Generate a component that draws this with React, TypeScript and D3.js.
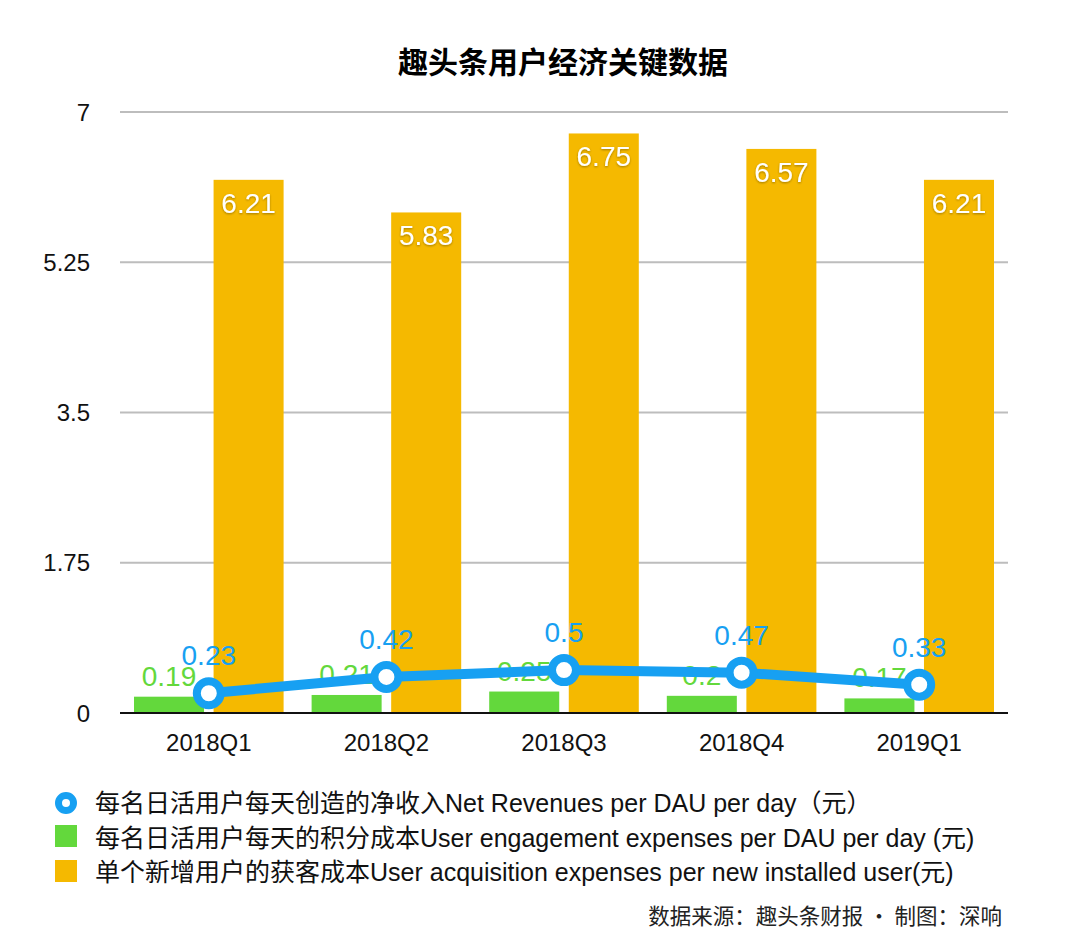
import * as d3 from "d3";

// 趣头条 quarterly numbers
const categories = ["2018Q1", "2018Q2", "2018Q3", "2018Q4", "2019Q1"];
const netRevenue = [0.23, 0.42, 0.5, 0.47, 0.33];
const engagement = [0.19, 0.21, 0.25, 0.2, 0.17];
const acquisition = [6.21, 5.83, 6.75, 6.57, 6.21];
const yTicks = [0, 1.75, 3.5, 5.25, 7];
const legendLabels = [
  "每名日活用户每天创造的净收入Net Revenues per DAU per day（元）",
  "每名日活用户每天的积分成本User engagement expenses per DAU per day (元)",
  "单个新增用户的获客成本User acquisition expenses per new installed user(元)",
];

const W = 1066;
const H = 946;
const BLUE = "#17a0f2";
const GREEN = "#63d83c";
const ORANGE = "#f5b900";
const FONT = '"Liberation Sans", "Noto Sans CJK SC", sans-serif';

const App = () => {
  const x = d3.scaleBand().domain(categories).range([120, 1008]);
  const sub = d3
    .scaleBand()
    .domain(["eng", "acq"])
    .range([0, x.step()])
    .paddingInner(0.12)
    .paddingOuter(0.176);
  const y = d3.scaleLinear().domain([0, 7]).range([713, 112]);

  const cx = (c: string) => (x(c) as number) + x.step() / 2;
  const line = d3
    .line<number>()
    .x((_, i) => cx(categories[i]))
    .y((d) => y(d));

  return (
    <div style={{ position: "absolute", left: 0, top: 0 }}>
      <svg width={W} height={H} style={{ display: "block", fontFamily: FONT }}>
        <defs>
          <filter id="shadow" x="-20%" y="-20%" width="140%" height="160%">
            <feDropShadow dx="0" dy="1" stdDeviation="1.2" floodColor="#000" floodOpacity="0.35" />
          </filter>
        </defs>
        <rect width={W} height={H} fill="#fff" />

        <text
          x={563}
          y={73}
          textAnchor="middle"
          fontSize={30}
          fontWeight="bold"
          fontFamily='"Noto Sans CJK SC", sans-serif'
          fill="#000"
        >
          趣头条用户经济关键数据
        </text>

        {/* grid + y labels */}
        {yTicks.map((t) => (
          <g key={t}>
            {t > 0 && (
              <line x1={120} x2={1008} y1={y(t)} y2={y(t)} stroke="#bdbdbd" strokeWidth={2} />
            )}
            <text x={90} y={y(t)} dy="0.36em" textAnchor="end" fontSize={24} fill="#111">
              {String(t)}
            </text>
          </g>
        ))}

        {/* bars */}
        {categories.map((c, i) => (
          <g key={c} transform={`translate(${x(c)},0)`}>
            <rect
              x={sub("eng")}
              width={sub.bandwidth()}
              y={y(engagement[i])}
              height={y(0) - y(engagement[i])}
              fill={GREEN}
            />
            <rect
              x={sub("acq")}
              width={sub.bandwidth()}
              y={y(acquisition[i])}
              height={y(0) - y(acquisition[i])}
              fill={ORANGE}
            />
          </g>
        ))}

        <line x1={120} x2={1008} y1={y(0)} y2={y(0)} stroke="#111" strokeWidth={2} />

        {/* orange value labels */}
        {categories.map((c, i) => (
          <text
            key={c}
            x={(x(c) as number) + (sub("acq") as number) + sub.bandwidth() / 2}
            y={y(acquisition[i]) + 33}
            textAnchor="middle"
            fontSize={28}
            fill="#fff"
            filter="url(#shadow)"
          >
            {String(acquisition[i])}
          </text>
        ))}

        {/* green value labels */}
        {categories.map((c, i) => (
          <text
            key={c}
            x={(x(c) as number) + (sub("eng") as number) + sub.bandwidth() / 2}
            y={y(engagement[i]) - 11}
            textAnchor="middle"
            fontSize={28}
            fill={GREEN}
          >
            {String(engagement[i])}
          </text>
        ))}

        {/* line series */}
        <path d={line(netRevenue) || ""} fill="none" stroke={BLUE} strokeWidth={10} strokeLinejoin="round" />
        {categories.map((c, i) => (
          <circle key={c} cx={cx(c)} cy={y(netRevenue[i])} r={12} fill="#fff" stroke={BLUE} strokeWidth={8} />
        ))}
        {categories.map((c, i) => (
          <text
            key={c}
            x={cx(c)}
            y={y(netRevenue[i]) - 28}
            textAnchor="middle"
            fontSize={28}
            fill={BLUE}
          >
            {String(netRevenue[i])}
          </text>
        ))}

        {/* x labels */}
        {categories.map((c) => (
          <text key={c} x={cx(c)} y={751} textAnchor="middle" fontSize={24} fill="#111">
            {c}
          </text>
        ))}

        {/* legend */}
        <g>
          <circle cx={66} cy={803} r={7.5} fill="#fff" stroke={BLUE} strokeWidth={7} />
          <rect x={55} y={825} width={22} height={22} fill={GREEN} />
          <rect x={55} y={860} width={22} height={22} fill={ORANGE} />
          {legendLabels.map((l, i) => (
            <text key={l} x={95} y={803 + i * 34.5} dy="0.36em" fontSize={25} fill="#111">
              {l}
            </text>
          ))}
        </g>

        <text
          x={1002}
          y={924}
          textAnchor="end"
          fontSize={21.5}
          fill="#222"
          fontFamily='"Noto Sans CJK SC", sans-serif'
        >
          数据来源：趣头条财报 · 制图：深响
        </text>
      </svg>
    </div>
  );
};

export default App;
